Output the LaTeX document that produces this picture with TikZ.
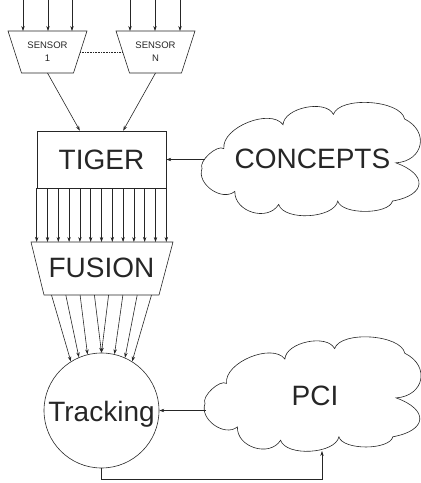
\documentclass[tikz,border=0pt]{standalone}
\usepackage{fontspec}
\setmainfont{Liberation Sans}
\usetikzlibrary{arrows.meta,calc}
\newcommand{\cloudoutline}{(-1,-0.15)
 to[bend right=75,looseness=1.06] (-0.70,-0.55)
 to[bend right=75,looseness=1.16] (-0.30,-0.78)
 to[bend right=75,looseness=0.77] (0.24,-0.72)
 to[bend right=75,looseness=0.67] (0.74,-0.72)
 to[bend right=75,looseness=2.3] (0.77,-0.05)
 to[bend right=75,looseness=1.6] (0.85,0.72)
 to[bend right=75,looseness=0.7] (0.20,0.80)
 to[bend right=75,looseness=0.85] (-0.26,0.62)
 to[bend right=75,looseness=0.85] (-0.80,0.20)
 to[bend right=75,looseness=0.7] (-1,-0.15) -- cycle}
\begin{document}
\begin{tikzpicture}[x=1pt,y=-1pt,
  ln/.style={draw=black!85,line width=0.6pt},
  arr/.style={ln,-{Stealth[length=5pt,width=3.4pt]}},
  bigtext/.style={font=\fontsize{28}{28}\selectfont,text=black!85,text height=20pt,text depth=0pt,inner sep=0pt},
  smalltext/.style={align=center,font=\fontsize{9.5}{13}\selectfont,text=black!85,inner sep=0pt}]
\useasboundingbox (0,0) rectangle (421,483);
% sensors
\draw[ln] (8,31) -- (87,31) -- (73.5,73) -- (21.5,73) -- cycle;
\draw[ln] (116,31) -- (195,31) -- (181.5,73) -- (129.5,73) -- cycle;
\node[smalltext] (s1) at (47.5,51.5) {SENSOR\\1};
\node[smalltext] (sN) at (155.5,51.5) {SENSOR\\N};
\coordinate (s1b) at (47.5,73);
\coordinate (sNb) at (155.5,73);
\coordinate (s1r) at (80.25,52);
\coordinate (sNl) at (122.75,52);
\foreach \xx [count=\i] in {23,48,72}{
  \coordinate (ia\i) at (\xx,0);
  \coordinate (ja\i) at (\xx,31);
  \draw[arr] (ia\i) -- (ja\i);}
\foreach \xx [count=\i] in {130,155,180}{
  \coordinate (ib\i) at (\xx,0);
  \coordinate (jb\i) at (\xx,31);
  \draw[arr] (ib\i) -- (jb\i);}
\draw[ln,densely dotted] (s1r) -- (sNl);
% tiger
\node[ln,minimum width=129pt,minimum height=57pt,bigtext] (tiger) at (101.5,159.5) {TIGER};
\draw[arr] (s1b) -- ($(tiger.north west)!0.333!(tiger.north east)$);
\draw[arr] (sNb) -- ($(tiger.north west)!0.667!(tiger.north east)$);
% fusion
\draw[ln] (31,242) -- (173,242) -- (159,295) -- (44,295) -- cycle;
\coordinate (fusionN) at (101.5,242);
\coordinate (fusionS) at (101.5,295);
\node[bigtext] (fusiontext) at (101.5,267.5) {FUSION};
\foreach \i in {0,...,12}{
  \coordinate (t\i) at ($(tiger.south west)!\i/12!(tiger.south east)$);
  \draw[arr] (t\i) -- (t\i |- fusionN);}
% tracking
\node[ln,circle,minimum size=115pt,inner sep=0pt] (tracking) at (101.5,410.5) {};
\node[bigtext] (trackingtext) at (101.5,411) {Tracking};
\foreach \dx/\ang [count=\i] in {-50/122,-35.7/113,-21.4/104,-7.1/90,7.1/90,21.4/77,35.7/66,50/58}{
  \coordinate (f\i) at ($(fusionS)+(\dx,0)$);
  \draw[arr] (f\i) -- (tracking.\ang);}
% concepts cloud
\begin{scope}[shift={(311.5,160)},x=109.5pt,y=57pt]
  \draw[ln] \cloudoutline;
\end{scope}
\node[bigtext] (concepts) at (312.5,158.5) {CONCEPTS};
\coordinate (concL) at (205,159.5);
\draw[arr] (concL) -- (tiger.east);
% pci cloud
\begin{scope}[shift={(313,395)},x=108pt,y=58pt]
  \draw[ln] \cloudoutline;
\end{scope}
\node[bigtext] (pci) at (315,395) {PCI};
\coordinate (pciL) at (206,410.5);
\coordinate (pciB) at (322,451);
\draw[arr] (pciL) -- (tracking.east);
\draw[arr] (tracking.south) -- ++(0,11) -| (pciB);
\end{tikzpicture}
\end{document}
